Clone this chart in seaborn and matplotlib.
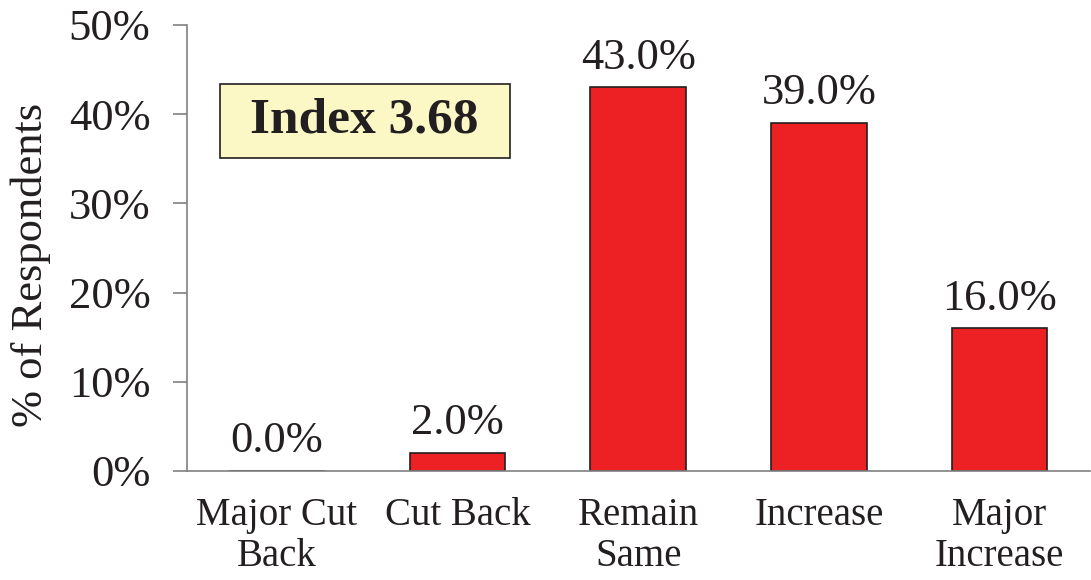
import matplotlib
matplotlib.use("Agg")
import matplotlib.pyplot as plt
from matplotlib.patches import Rectangle
import pandas as pd
import seaborn as sns

categories = ["Major Cut\nBack", "Cut Back", "Remain\nSame", "Increase", "Major\nIncrease"]
percent_values = [0.0, 2.0, 43.0, 39.0, 16.0]
y_ticks = [0, 10, 20, 30, 40, 50]
index_label = "Index 3.68"

sns.set_theme(style="white")
plt.rcParams["font.family"] = ["Liberation Serif", "DejaVu Serif"]

df = pd.DataFrame({"category": categories, "pct": percent_values})

fig = plt.figure(figsize=(10.91, 5.80), dpi=100)
ax = fig.add_axes([0.171, 0.188, 0.828, 0.769])

sns.barplot(data=df, x="category", y="pct", ax=ax, color="#ED2024", saturation=1,
            width=0.53, edgecolor="#231F20", linewidth=1.2)

ax.bar_label(ax.containers[0], labels=[f"{v:.1f}%" for v in percent_values],
             padding=7, fontsize=32, color="#231F20")

ax.set_ylim(0, 50)
ax.set_xlim(-0.5, len(categories) - 0.5)
ax.set_yticks(y_ticks)
ax.set_yticklabels([f"{t}%" for t in y_ticks], fontsize=32, color="#231F20")
ax.set_xticks(range(len(categories)))
ax.set_xticklabels(categories, fontsize=28, color="#231F20", linespacing=1.13)
ax.set_xticks([i - 0.5 for i in range(len(categories) + 1)], minor=True)
ax.tick_params(axis="x", which="major", length=0, pad=19)
ax.tick_params(axis="x", which="minor", length=8, width=1.2, color="#808080", direction="out")
ax.tick_params(axis="y", length=10, width=1.2, color="#808080", direction="out", pad=16, left=True)
ax.set_xlabel("")
ax.set_ylabel("% of Respondents", fontsize=32, color="#231F20")
ax.yaxis.set_label_coords(-0.150, 0.462)

sns.despine(ax=ax)
for side in ["left", "bottom"]:
    ax.spines[side].set_color("#808080")
    ax.spines[side].set_linewidth(1.2)

# index callout box
ax.add_patch(Rectangle((0.0365, 0.702), 0.3215, 0.166, transform=ax.transAxes,
                       facecolor="#FBF8C6", edgecolor="#231F20", linewidth=1.2, zorder=3))
ax.text(0.197, 0.785, index_label, transform=ax.transAxes, fontsize=37, fontweight="bold",
        color="#231F20", ha="center", va="center", zorder=4)

fig.savefig("out.png", dpi=100)
